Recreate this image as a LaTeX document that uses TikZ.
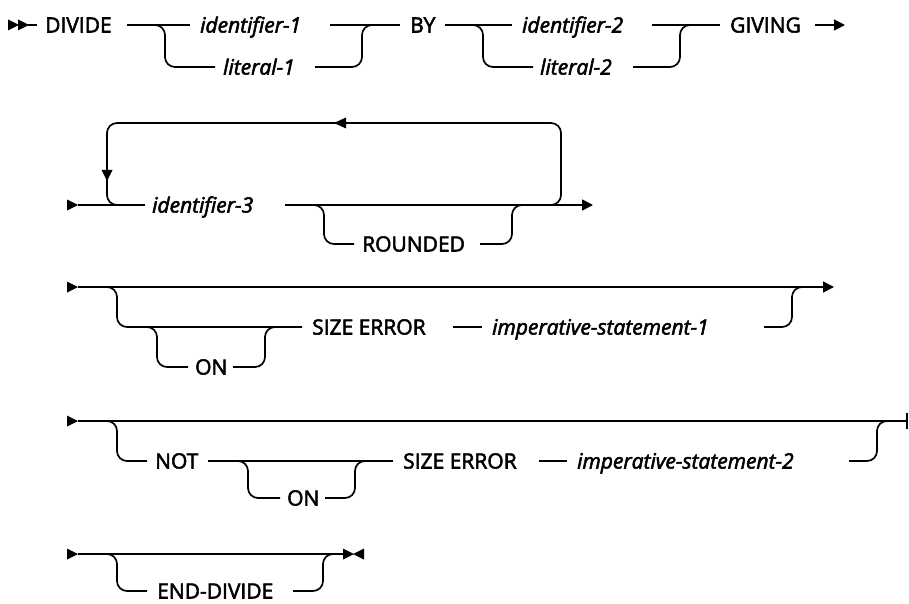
\documentclass[tikz,border=0pt]{standalone}
\usepackage{fontspec}
\setmainfont{Open Sans}[FakeBold=2.5]
\usetikzlibrary{arrows.meta}

\tikzset{
  binario/.style={line width=1.7pt, rounded corners=10pt},
  parola/.style={font=\fontsize{21}{24}\selectfont, inner sep=0pt, anchor=base west},
  variabile/.style={parola, font=\fontsize{21}{24}\selectfont\itshape},
  punta/.style={-{Triangle[length=11pt,width=11pt]}}
}
% triangolino di partenza
\newcommand{\partenza}[2]{\fill (#1,#2-5.5) -- ++(11,5.5) -- ++(-11,5.5) -- cycle;}

\begin{document}
\begin{tikzpicture}[x=1pt,y=-1pt]
    \useasboundingbox (0,0) rectangle (909,604);

    %riga 1
    \partenza{8}{25}
    \partenza{18}{25}
    \draw[binario] (28,25)--(37,25);
    \node[parola] (divide) at (45,32.5) {DIVIDE};
    \draw[binario] (127,25)--(190,25);
    \draw[binario] (145,25) -| (165,67) -- (215,67);
    \node[variabile] (id1) at (200,32.5) {identifier-1};
    \node[variabile] (lit1) at (223,74.5) {literal-1};
    \draw[binario] (330,25)--(400,25);
    \draw[binario] (315,67) -| (362,25) -- (380,25);
    \node[parola] (by) at (410,32.5) {BY};
    \draw[binario] (445,25)--(512,25);
    \draw[binario] (463,25) -| (483,67) -- (533,67);
    \node[variabile] (id2) at (522,32.5) {identifier-2};
    \node[variabile] (lit2) at (540,74.5) {literal-2};
    \draw[binario] (652,25)--(720,25);
    \draw[binario] (633,67) -| (680,25) -- (700,25);
    \node[parola] (giving) at (730,32.5) {GIVING};
    \draw[binario,punta] (815,25)--(845,25);

    %riga 2
    \partenza{67}{205}
    \draw[binario] (78,205)--(145,205);
    %ciclo
    \draw[binario] (541,205) -| (561,123) -| (107,205) -- (127,205);
    \fill (101.5,170) -- (112.5,170) -- (107,181) -- cycle;
    \fill (346,117.5) -- (346,128.5) -- (334,123) -- cycle;
    \node[variabile] (id3) at (152,212.5) {identifier-3};
    \draw[binario,punta] (285,205)--(593,205);
    \draw[binario] (304,205) -| (324,244) -- (354,244);
    \node[parola] (rounded) at (362,251.5) {ROUNDED};
    \draw[binario] (480,244) -| (512,205) -- (532,205);

    %riga 3
    \partenza{67}{287}
    \draw[binario,punta] (78,287)--(834,287);
    \draw[binario] (97,287) -| (117,327) -- (302,327);
    \draw[binario] (137,327) -| (157,367) -- (188,367);
    \node[parola] (on1) at (195,374.5) {ON};
    \draw[binario] (233,367) -| (265,327) -- (285,327);
    \node[parola] (size1) at (312,334.5) {SIZE ERROR};
    \draw[binario] (453,327)--(482,327);
    \node[variabile] (imp1) at (492,334.5) {imperative-statement-1};
    \draw[binario] (764,327) -| (792,287) -- (812,287);

    %riga 4
    \partenza{67}{421}
    \draw[binario] (78,421)--(907,421);
    \draw[line width=1.7pt] (907,413)--(907,429);
    \draw[binario] (97,421) -| (117,461) -- (147,461);
    \node[parola] (not) at (155,468.5) {NOT};
    \draw[binario] (208,461)--(393,461);
    \draw[binario] (228,461) -| (248,498) -- (280,498);
    \node[parola] (on2) at (287,505.5) {ON};
    \draw[binario] (325,498) -| (355,461) -- (375,461);
    \node[parola] (size2) at (403,468.5) {SIZE ERROR};
    \draw[binario] (539,461)--(567,461);
    \node[variabile] (imp2) at (577,468.5) {imperative-statement-2};
    \draw[binario] (849,461) -| (877,421) -- (897,421);

    %riga 5
    \partenza{67}{554}
    \draw[binario] (78,554)--(343,554);
    \partenza{343}{554}
    \fill (364,548.5) -- (353,554) -- (364,559.5) -- cycle;
    \draw[binario] (97,554) -| (117,591) -- (147,591);
    \node[parola] (enddiv) at (157,598.5) {END-DIVIDE};
    \draw[binario] (293,591) -| (323,554) -- (343,554);

\end{tikzpicture}
\end{document}
